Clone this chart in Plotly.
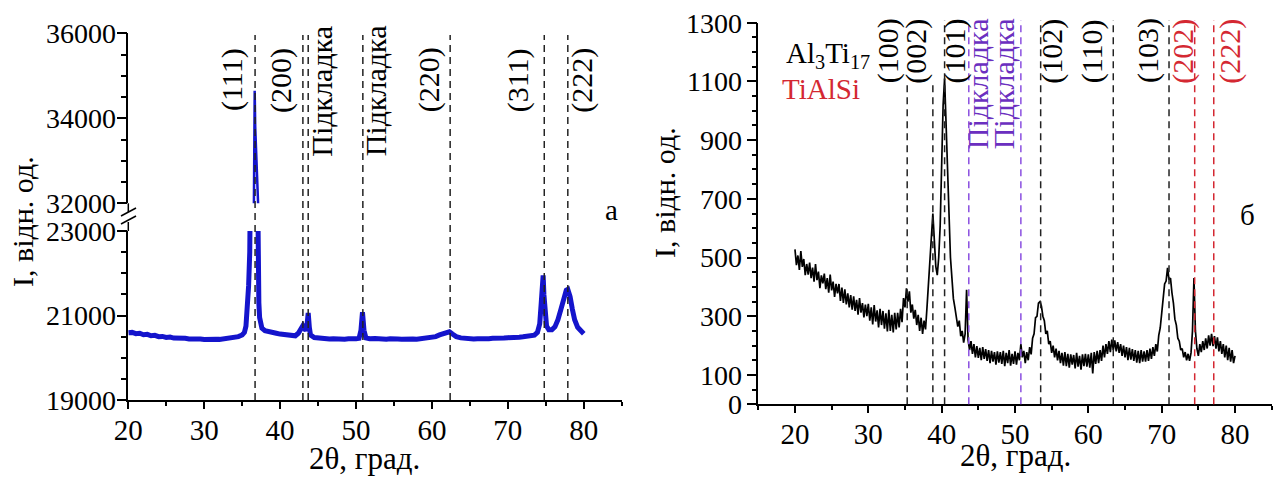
import numpy as np
import plotly.graph_objects as go

W, H = 1280, 484
FONT = "Liberation Serif"

# ---------------- data: panel (a) ----------------
a_x = [20.0, 20.5, 21.0, 21.5, 22.0, 22.5, 23.0, 23.5, 24.0, 24.5, 25.0, 25.5, 26.0, 26.5, 27.0, 27.5,
       28.0, 28.5, 29.0, 29.5, 30.0, 30.5, 31.0, 31.5, 32.0, 32.5, 33.0, 33.5, 34.0, 34.5, 35.0, 35.3,
       35.5, 35.7, 35.85, 36.0, 36.15, 36.3, 36.45, 36.55, 36.65, 36.72, 36.8, 36.9, 37.0, 37.1, 37.2,
       37.3, 37.45, 37.6, 38.0, 38.5, 39.0, 39.5, 40.0, 40.5, 41.0, 41.5, 42.0, 42.4, 42.7, 43.0, 43.2,
       43.4, 43.55, 43.7, 43.85, 44.0, 44.5, 45.0, 45.5, 46.0, 46.5, 47.0, 47.5, 48.0, 48.5, 49.0, 49.5,
       50.0, 50.4, 50.65, 50.85, 51.05, 51.3, 51.8, 52.5, 53.0, 53.5, 54.0, 54.5, 55.0, 55.5, 56.0, 56.5,
       57.0, 57.5, 58.0, 58.5, 59.0, 59.5, 60.0, 60.5, 61.0, 61.5, 62.0, 62.3, 62.7, 63.2, 63.8, 64.5,
       65.0, 65.5, 66.0, 66.5, 67.0, 67.5, 68.0, 68.5, 69.0, 69.5, 70.0, 70.5, 71.0, 71.5, 72.0, 72.5,
       73.0, 73.5, 73.9, 74.2, 74.4, 74.55, 74.65, 74.75, 74.9, 75.1, 75.4, 75.8, 76.2, 76.6, 77.0, 77.4,
       77.7, 77.9, 78.2, 78.5, 78.8, 79.2, 79.6, 80.0]
a_y = [20590, 20600, 20570, 20580, 20545, 20555, 20520, 20530, 20500, 20505, 20480, 20490, 20465, 20470,
       20455, 20460, 20445, 20450, 20435, 20445, 20430, 20440, 20430, 20440, 20435, 20450, 20450, 20465,
       20470, 20500, 20540, 20600, 20750, 21150, 21700, 22500, 23300, 25500, 29500, 32600, 34650, 33800,
       31000, 26500, 23400, 22100, 21300, 20950, 20780, 20700, 20640, 20610, 20600, 20580, 20560, 20555,
       20535, 20530, 20520, 20580, 20680, 20760, 20700, 20640, 20780, 21060, 20720, 20540, 20480, 20465,
       20455, 20455, 20445, 20450, 20440, 20445, 20440, 20450, 20440, 20450, 20460, 20650, 21080, 20650,
       20470, 20450, 20455, 20440, 20450, 20440, 20450, 20435, 20445, 20440, 20450, 20440, 20445, 20440,
       20450, 20445, 20455, 20470, 20500, 20540, 20580, 20610, 20615, 20560, 20500, 20470, 20450, 20455,
       20445, 20450, 20445, 20455, 20450, 20460, 20455, 20465, 20465, 20475, 20470, 20485, 20485, 20495,
       20505, 20515, 20535, 20600, 20800, 21300, 21750, 21950, 21500, 21000, 20750, 20660, 20660, 20730,
       20900, 21150, 21420, 21600, 21620, 21450, 21150, 20900, 20720, 20640, 20570]

a_lines = [36.7, 43.0, 43.7, 50.9, 62.4, 74.8, 77.9]
a_labels = ["(111)", "(200)", "Підкладка", "Підкладка", "(220)", "(311)", "(222)"]
a_yticks = [19000, 21000, 23000]
a_yticks_top = [32000, 34000, 36000]

# ---------------- data: panel (б) ----------------
b_x = np.round(np.arange(20.0, 80.001, 0.2), 1)
b_y = [
    528, 474, 507, 458, 522, 468, 495, 440, 478, 442,   # 20.0-21.8
    483, 430, 466, 418, 478, 423, 452, 396, 439, 412,   # 22.0-23.8
    445, 392, 430, 380, 442, 388, 418, 366, 410, 378,   # 24.0-25.8
    410, 352, 398, 345, 392, 340, 378, 330, 372, 322,   # 26.0-27.8
    368, 318, 356, 305, 362, 312, 345, 296, 340, 300,   # 28.0-29.8
    342, 285, 330, 272, 338, 282, 320, 262, 325, 270,   # 30.0-31.8
    318, 258, 310, 248, 322, 250, 305, 245, 312, 255,   # 32.0-33.8
    312, 262, 325, 280, 362, 330, 395, 350, 385, 312,   # 34.0-35.8
    340, 292, 322, 270, 305, 250, 295, 240, 285, 255,   # 36.0-37.8
    330, 410, 520, 610, 650, 560, 470, 440, 500, 610,   # 38.0-39.8
    820, 1020, 1110, 960, 740, 600, 500, 430, 360, 330, # 40.0-41.8
    300, 265, 285, 232, 250, 210, 240, 390, 220, 185,   # 42.0-43.8
    215, 172, 205, 160, 198, 158, 192, 150, 195, 155,   # 44.0-45.8
    188, 148, 185, 140, 182, 145, 178, 135, 180, 142,   # 46.0-47.8
    178, 138, 182, 130, 175, 140, 185, 132, 172, 138,   # 48.0-49.8
    180, 135, 175, 150, 205, 160, 182, 140, 178, 150,   # 50.0-51.8
    195, 170, 225, 240, 295, 300, 345, 350, 335, 300,   # 52.0-53.8
    285, 240, 250, 205, 215, 175, 200, 160, 190, 150,   # 54.0-55.8
    182, 140, 175, 132, 178, 130, 172, 125, 170, 135,   # 56.0-57.8
    168, 122, 175, 128, 165, 118, 170, 130, 172, 128,   # 58.0-59.8
    170, 125, 175, 105, 178, 138, 182, 140, 185, 148,   # 60.0-61.8
    200, 160, 205, 172, 215, 178, 220, 185, 218, 180,   # 62.0-63.8
    212, 175, 205, 165, 200, 160, 195, 150, 192, 152,   # 64.0-65.8
    188, 148, 185, 142, 182, 140, 185, 145, 180, 145,   # 66.0-67.8
    185, 148, 190, 155, 195, 165, 205, 180, 235, 260,   # 68.0-69.8
    310, 350, 410, 420, 465, 425, 430, 380, 345, 290,   # 70.0-71.8
    270, 225, 215, 185, 190, 160, 178, 150, 172, 148,   # 72.0-73.8
    175, 250, 430, 250, 190, 165, 205, 178, 215, 185,   # 74.0-75.8
    225, 190, 235, 200, 240, 198, 232, 190, 228, 180,   # 76.0-77.8
    215, 172, 205, 160, 200, 150, 192, 145, 185, 140,   # 78.0-79.8
    165,                                                # 80.0
]

b_lines = [35.3, 38.8, 40.4, 43.7, 50.8, 53.5, 63.4, 71.0, 74.5, 77.1]
b_labels = ["(100)", "(002)", "(101)", "Підкладка", "Підкладка", "(102)", "(110)", "(103)", "(202)", "(222)"]
b_kinds = ["a", "a", "a", "s", "s", "a", "a", "a", "t", "t"]
b_yticks = [0, 100, 300, 500, 700, 900, 1100, 1300]

# ---------------- styles ----------------
BLUE = "#1414CC"
PURPLE_LINE = "#8A4FE0"
PURPLE_TEXT = "#6B2FC0"
RED = "#D42832"
kind_line = {"a": "#222222", "s": PURPLE_LINE, "t": RED}
kind_text = {"a": "black", "s": PURPLE_TEXT, "t": RED}

# label placement (anchor side, pixel shift, vertical centre pixel)
a_side = ["right", "right", "left", "left", "right", "right", "left"]
a_shift = [-4, -3, -5, -5, -2, -7, -5]
a_mid = [80, 80, 91, 91, 80, 80, 80]
b_side = ["right", "right", "left", "left", "right", "left", "right", "right", "right", "left"]
b_shift = [0, 2, -9, -9, 2, -8, -2, -2, 7, -3]
b_mid = [51, 51, 51, 84, 84, 51, 51, 51, 51, 51]
b_line_top = [85, 85, 20, 20, 20, 20, 20, 20, 20, 20]


def px(x):
    return x / W


def py(y):
    return 1 - y / H


fig = go.Figure()
fig.add_trace(go.Scatter(x=a_x, y=a_y, mode="lines", line=dict(color=BLUE, width=5),
                         xaxis="x", yaxis="y", showlegend=False))
fig.add_trace(go.Scatter(x=a_x, y=a_y, mode="lines", line=dict(color=BLUE, width=2.5),
                         xaxis="x2", yaxis="y2", showlegend=False))
fig.add_trace(go.Scatter(x=b_x, y=b_y, mode="lines", line=dict(color="black", width=1.7),
                         xaxis="x3", yaxis="y3", showlegend=False))

tickfont_x = dict(family=FONT, size=29, color="black")
tickfont_y = dict(family=FONT, size=28, color="black")
common_x = dict(showline=True, linecolor="black", linewidth=1.5, ticks="outside", ticklen=7,
                tickwidth=1.5, tickcolor="black", showgrid=False, zeroline=False, automargin=False,
                tickfont=tickfont_x, tickmode="linear", tick0=20, dtick=10, ticklabelstandoff=-4,
                minor=dict(ticks="outside", ticklen=4, tickwidth=1.5, tickcolor="black",
                           tickmode="linear", tick0=0, dtick=5, showgrid=False))
common_y = dict(showline=True, linecolor="black", linewidth=1.5, ticks="outside", ticklen=10,
                tickwidth=1.5, tickcolor="black", showgrid=False, zeroline=False, automargin=False,
                tickfont=tickfont_y, tickmode="array")

fig.update_layout(
    template="none",
    width=W, height=H, margin=dict(l=0, r=0, t=0, b=0, autoexpand=False),
    paper_bgcolor="white", plot_bgcolor="white",
    font=dict(family=FONT, size=26, color="black"),
    xaxis=dict(domain=[px(128.3), px(621.7)], range=[20, 85], anchor="y", **common_x),
    xaxis2=dict(domain=[px(128.3), px(621.7)], range=[20, 85], anchor="y2", visible=False,
                automargin=False),
    yaxis=dict(domain=[py(400), py(231)], range=[19000, 23000], anchor="x",
               tickvals=a_yticks, ticktext=[str(v) for v in a_yticks], ticklabelstandoff=-5,
               minor=dict(ticks="outside", ticklen=6, tickwidth=1.5, tickcolor="black",
                          tickmode="linear", tick0=0, dtick=500, showgrid=False),
               **common_y),
    yaxis2=dict(domain=[py(203.3), py(33.3)], range=[32000, 36000], anchor="x2",
                tickvals=a_yticks_top, ticktext=[str(v) for v in a_yticks_top], ticklabelstandoff=-5,
                minor=dict(ticks="outside", ticklen=6, tickwidth=1.5, tickcolor="black",
                           tickmode="linear", tick0=0, dtick=500, showgrid=False),
                **common_y),
    xaxis3=dict(domain=[px(758.3), px(1271.7)], range=[15, 85], anchor="y3", **common_x),
    yaxis3=dict(domain=[py(404.3), py(22.7)], range=[0, 1300], anchor="x3",
                tickvals=b_yticks, ticktext=[str(v) for v in b_yticks], ticklabelstandoff=-1,
                minor=dict(ticks="outside", ticklen=5, tickwidth=1.5, tickcolor="black",
                           tickmode="linear", tick0=0, dtick=50, showgrid=False),
                **common_y),
)

shapes = []
DASH = "7px,5px"
for xv in a_lines:
    shapes.append(dict(type="line", xref="x", yref="paper", x0=xv, x1=xv, y0=py(400), y1=py(35),
                       line=dict(color="#222222", width=1.5, dash=DASH), layer="above"))
for xv, k, top in zip(b_lines, b_kinds, b_line_top):
    shapes.append(dict(type="line", xref="x3", yref="paper", x0=xv, x1=xv, y0=py(404.3), y1=py(top),
                       line=dict(color=kind_line[k], width=1.5, dash=DASH), layer="above"))
# axis break on the left panel
shapes.append(dict(type="line", xref="paper", yref="paper", x0=px(128.3), x1=px(128.3),
                   y0=py(203.3), y1=py(212), line=dict(color="black", width=1.5)))
shapes.append(dict(type="line", xref="paper", yref="paper", x0=px(128.3), x1=px(128.3),
                   y0=py(222), y1=py(231), line=dict(color="black", width=1.5)))
shapes.append(dict(type="line", xref="paper", yref="paper", x0=px(121), x1=px(136),
                   y0=py(216), y1=py(208), line=dict(color="black", width=1.5)))
shapes.append(dict(type="line", xref="paper", yref="paper", x0=px(121), x1=px(136),
                   y0=py(224), y1=py(216), line=dict(color="black", width=1.5)))

ann = []
lab_font = 30
for xv, t, side, sh, mid in zip(a_lines, a_labels, a_side, a_shift, a_mid):
    ann.append(dict(x=xv, xref="x", y=py(mid), yref="paper", text=t, textangle=-90,
                    xanchor=side, yanchor="middle", xshift=sh, showarrow=False,
                    font=dict(family=FONT, size=lab_font, color="black")))
for xv, t, k, side, sh, mid in zip(b_lines, b_labels, b_kinds, b_side, b_shift, b_mid):
    ann.append(dict(x=xv, xref="x3", y=py(mid), yref="paper", text=t, textangle=-90,
                    xanchor=side, yanchor="middle", xshift=sh, showarrow=False,
                    font=dict(family=FONT, size=lab_font, color=kind_text[k])))

# axis titles
ann.append(dict(x=px(22), y=py(222), xref="paper", yref="paper", text="I, відн. од.", textangle=-90,
                showarrow=False, xanchor="center", yanchor="middle",
                font=dict(family=FONT, size=30, color="black")))
ann.append(dict(x=px(665), y=py(193), xref="paper", yref="paper", text="I, відн. од.", textangle=-90,
                showarrow=False, xanchor="center", yanchor="middle",
                font=dict(family=FONT, size=30, color="black")))
ann.append(dict(x=px(364), y=py(458), xref="paper", yref="paper", text="2θ, град.",
                showarrow=False, xanchor="center", yanchor="middle",
                font=dict(family=FONT, size=31, color="black")))
ann.append(dict(x=px(1015), y=py(455), xref="paper", yref="paper", text="2θ, град.",
                showarrow=False, xanchor="center", yanchor="middle",
                font=dict(family=FONT, size=31, color="black")))
# panel letters and legend
ann.append(dict(x=px(611), y=py(210), xref="paper", yref="paper", text="а", showarrow=False,
                xanchor="center", yanchor="middle", font=dict(family=FONT, size=29, color="black")))
ann.append(dict(x=px(1247), y=py(215), xref="paper", yref="paper", text="б", showarrow=False,
                xanchor="center", yanchor="middle", font=dict(family=FONT, size=29, color="black")))
ann.append(dict(x=px(784), y=py(55), xref="paper", yref="paper", text="Al<sub>3</sub>Ti<sub>17</sub>",
                showarrow=False, xanchor="left", yanchor="middle",
                font=dict(family=FONT, size=29, color="black")))
ann.append(dict(x=px(780), y=py(89), xref="paper", yref="paper", text="TiAlSi",
                showarrow=False, xanchor="left", yanchor="middle",
                font=dict(family=FONT, size=29, color=RED)))

fig.update_layout(shapes=shapes, annotations=ann)
fig.write_html("out.html")
